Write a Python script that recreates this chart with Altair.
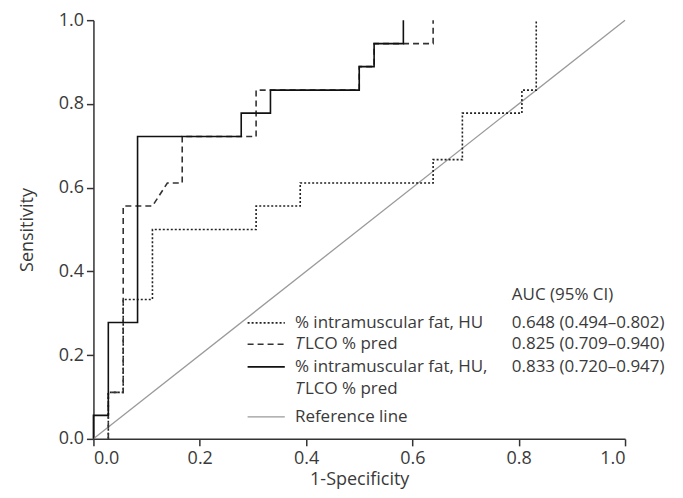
import altair as alt
import pandas as pd

# ROC curve vertices
combo_x = [0.0, 0.0, 0.028, 0.028, 0.083, 0.083, 0.278, 0.278, 0.333, 0.333, 0.500, 0.500, 0.528, 0.528, 0.583, 0.583]
combo_y = [0.0, 0.056, 0.056, 0.278, 0.278, 0.722, 0.722, 0.778, 0.778, 0.833, 0.833, 0.889, 0.889, 0.944, 0.944, 1.0]

tlco_x = [0.028, 0.028, 0.056, 0.056, 0.111, 0.139, 0.167, 0.167, 0.306, 0.306, 0.500, 0.500, 0.528, 0.528, 0.639, 0.639]
tlco_y = [0.0, 0.111, 0.111, 0.556, 0.556, 0.611, 0.611, 0.722, 0.722, 0.833, 0.833, 0.889, 0.889, 0.944, 0.944, 1.0]

fat_x = [0.028, 0.028, 0.056, 0.056, 0.111, 0.111, 0.306, 0.306, 0.389, 0.389, 0.639, 0.639, 0.694, 0.694, 0.806, 0.806, 0.833, 0.833]
fat_y = [0.0, 0.111, 0.111, 0.333, 0.333, 0.500, 0.500, 0.556, 0.556, 0.611, 0.611, 0.667, 0.667, 0.778, 0.778, 0.833, 0.833, 1.0]

ref_x = [0.0, 1.0]
ref_y = [0.0, 1.0]

tick_values = [0.0, 0.2, 0.4, 0.6, 0.8, 1.0]

legend_labels = ["% intramuscular fat, HU", "LCO % pred", "% intramuscular fat, HU,", "LCO % pred", "Reference line"]
auc_labels = ["0.648 (0.494\u20130.802)", "0.825 (0.709\u20130.940)", "0.833 (0.720\u20130.947)"]
auc_header = "AUC (95% CI)"

FONT = "Open Sans"
FS = 17
AFS = 18
TXT = "#3a3a3a"

def curve_df(xs, ys):
    return pd.DataFrame({"x": xs, "y": ys, "i": list(range(len(xs)))})

xscale = alt.Scale(domain=[0, 1], nice=False)
yscale = alt.Scale(domain=[0, 1], nice=False)

xaxis = alt.Axis(values=tick_values, format=".1f", title="1-Specificity", grid=False)
yaxis = alt.Axis(values=tick_values, format=".1f", title="Sensitivity", grid=False)

X = lambda f: alt.X(f, scale=xscale, axis=xaxis)
Y = lambda f: alt.Y(f, scale=yscale, axis=yaxis)

def line_layer(df, color, dash, width=1.6):
    kw = {}
    if dash:
        kw["strokeDash"] = dash
    return alt.Chart(df).mark_line(color=color, strokeWidth=width, **kw).encode(
        x=X("x:Q"), y=Y("y:Q"), order="i:Q",
    )

ref = line_layer(curve_df(ref_x, ref_y), "#9a9a9a", None, 1.3)
fat = line_layer(curve_df(fat_x, fat_y), "#222222", [2, 2], 1.6)
tlco = line_layer(curve_df(tlco_x, tlco_y), "#333333", [6, 4], 1.6)
combo = line_layer(curve_df(combo_x, combo_y), "#111111", None, 1.6)

# legend (placed in data coordinates)
lx0, lx1, tx, ax = 0.290, 0.360, 0.379, 0.787
row_y = [0.277, 0.226, 0.172, 0.119, 0.0525]
head_y = 0.344

def seg(y, color, dash, width):
    kw = {}
    if dash:
        kw["strokeDash"] = dash
    d = pd.DataFrame({"x": [lx0], "x2": [lx1], "y": [y]})
    return alt.Chart(d).mark_rule(color=color, strokeWidth=width, **kw).encode(
        x=X("x:Q"), x2="x2:Q", y=Y("y:Q")
    )

segs = [
    seg(row_y[0], "#222222", [2, 2], 1.6),
    seg(row_y[1], "#333333", [6, 4], 1.6),
    seg(row_y[2], "#111111", None, 1.6),
    seg(row_y[4], "#9a9a9a", None, 1.3),
]

def texts(xs, ys, labels, dx=0, style="normal"):
    d = pd.DataFrame({"x": xs, "y": ys, "t": labels})
    return alt.Chart(d).mark_text(
        align="left", baseline="middle", font=FONT, fontSize=FS, color=TXT, dx=dx, fontStyle=style
    ).encode(x=X("x:Q"), y=Y("y:Q"), text="t:N")

plain = texts([tx, tx, tx], [row_y[0], row_y[2], row_y[4]],
              [legend_labels[0], legend_labels[2], legend_labels[4]])
tlco_rest = texts([tx, tx], [row_y[1], row_y[3]], [legend_labels[1], legend_labels[3]], dx=10)
italic_t = texts([tx, tx], [row_y[1], row_y[3]], ["T", "T"], style="italic")
aucs = texts([ax, ax, ax, ax], [head_y, row_y[0], row_y[1], row_y[2]], [auc_header] + auc_labels)

chart = alt.layer(ref, fat, tlco, combo, *segs, plain, tlco_rest, italic_t, aucs).properties(
    width=532, height=419,
    autosize=alt.AutoSizeParams(type="none"),
    padding={"left": 85.5, "top": 12, "right": 50, "bottom": 51},
).configure_view(stroke=None).configure_axis(
    domainColor="#333333", domainWidth=1.5, tickColor="#333333", tickWidth=1.5, tickSize=7,
    labelFont=FONT, labelFontSize=AFS, labelColor=TXT, labelPadding=4,
    titleFont=FONT, titleFontSize=AFS, titleColor=TXT, titleFontWeight="normal",
).configure_axisX(labelPadding=4, titleBaseline="alphabetic", titleY=46).configure_axisY(labelPadding=3, titlePadding=22)

chart.save("out.html", embed_options={"renderer": "svg", "actions": False})
